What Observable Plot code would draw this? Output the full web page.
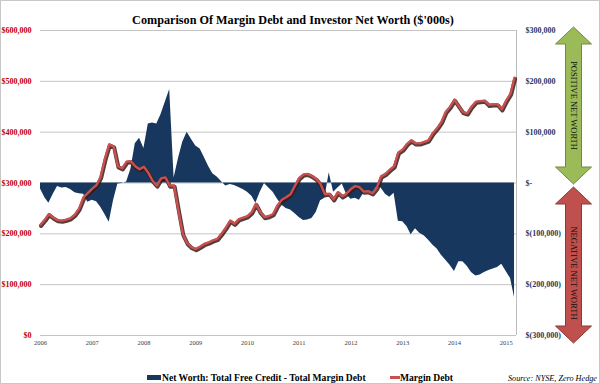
<!DOCTYPE html>
<html>
<head>
<meta charset="utf-8">
<script src="https://cdn.jsdelivr.net/npm/d3@7"></script>
<script src="https://cdn.jsdelivr.net/npm/@observablehq/plot@0.6"></script>
<style>
  html, body { margin: 0; padding: 0; background: #fff; }
  #wrap { position: relative; width: 600px; height: 384px; overflow: hidden; background: #fff;
          font-family: "Liberation Serif", "Times New Roman", serif; }
  #chart { position: absolute; left: 0; top: 0; }
  #overlay { position: absolute; left: 0; top: 0; pointer-events: none; }
  #border { position: absolute; left: 0; top: 0; width: 598px; height: 382px; border: 1px solid #c8c8c8; pointer-events: none; }
</style>
</head>
<body>
<div id="wrap">
  <div id="chart"></div>
  <svg id="overlay" width="600" height="384" xmlns="http://www.w3.org/2000/svg"></svg>
  <div id="border"></div>
</div>
<script>
// ---- data ($'000s), monthly from Jan 2006 ----
const startYear = 2006;
const marginDebt = [
  218000,228000,239000,232000,227000,226000,228000,231000,238000,250000,272000,280000,
  289000,296000,312000,348000,376000,372000,333000,329000,342000,343000,333000,327000,
  332000,320000,305000,295000,309000,311000,295000,295000,245000,200000,182000,174000,
  170000,175000,180000,183000,187000,190000,200000,212000,226000,220000,229000,232000,
  235000,243000,259000,243000,233000,235000,239000,256000,267000,272000,278000,294000,
  310000,317000,318000,314000,308000,298000,278000,279000,268000,282000,274000,279000,
  288000,294000,292000,283000,284000,280000,290000,313000,318000,326000,333000,360000,
  366000,377000,384000,378000,378000,381000,384000,398000,408000,420000,440000,450000,
  464000,451000,440000,437000,450000,460000,461000,462000,454000,455000,455000,445000,
  462000,476000,507000
];
const netWorth = [
  -12000,-29000,-40000,-22000,-7000,-10000,-9000,-13000,-19000,-21000,-22000,-38000,
  -34000,-37000,-47000,-62000,-77000,-34000,-2000,-1000,2000,27000,77000,88000,
  68000,116000,118000,116000,135000,160000,184000,10000,48000,80000,100000,86000,
  73000,67000,51000,33000,18000,12000,3000,-6000,-3000,-5000,-9000,-13000,
  -18000,-26000,-40000,-18000,-1000,-10000,-18000,-32000,-44000,-50000,-53000,-60000,
  -68000,-74000,-73000,-70000,-58000,-35000,-30000,20000,-18000,-10000,-2000,-22000,
  -32000,-30000,-34000,-20000,-16000,-20000,-8000,-10000,-22000,-28000,-20000,-75000,
  -76000,-86000,-102000,-90000,-99000,-104000,-112000,-122000,-130000,-142000,-152000,-162000,
  -174000,-155000,-155000,-164000,-176000,-183000,-181000,-176000,-172000,-169000,-166000,-160000,
  -174000,-188000,-225000
];
const leftTicks = [0, 100000, 200000, 300000, 400000, 500000, 600000];
const rightZero = 300000; // right axis "$-" sits at left-axis 300,000
const yearLabels = ["2006","2007","2008","2009","2010","2011","2012","2013","2014","2015"];
const seriesNames = ["Net Worth: Total Free Credit - Total Margin Debt", "Margin Debt"];
const titleText = "Comparison Of Margin Debt and Investor Net Worth ($'000s)";
const sourceText = "Source: NYSE, Zero Hedge";
const arrowLabels = ["POSITIVE NET WORTH", "NEGATIVE NET WORTH"];

const navy = "#17375e", red = "#c9504e";

const rows = marginDebt.map((v, i) => ({
  date: new Date(Date.UTC(startYear, i, 1)),
  debt: v,
  nw: netWorth[i]
}));
const yearDates = yearLabels.map(y => new Date(Date.UTC(+y, 0, 1)));
const xEnd = new Date(Date.UTC(2015, 2, 15));

const fmt = d3.format(",");
const fmtLeft = d => "$" + fmt(d);
const fmtRight = d => {
  const v = d - rightZero;
  if (v === 0) return "$-";
  return v < 0 ? "$(" + fmt(-v) + ")" : "$" + fmt(v);
};

const chart = Plot.plot({
  width: 600, height: 384,
  marginLeft: 40, marginRight: 84, marginTop: 30, marginBottom: 49,
  style: { fontFamily: "Liberation Serif, Times New Roman, serif", background: "transparent", overflow: "visible" },
  x: { type: "utc", domain: [new Date(Date.UTC(startYear, 0, 1)), xEnd], label: null },
  y: { domain: [0, 600000], label: null },
  marks: [
    Plot.ruleY(leftTicks, { stroke: "#c4c4c4", strokeWidth: 1 }),
    Plot.ruleX([xEnd], { stroke: "#bdbdbd", strokeWidth: 1 }),
    Plot.areaY(rows, { x: "date", y1: () => rightZero, y2: d => d.nw + rightZero, fill: navy, curve: "linear" }),
    Plot.lineY(rows, { x: "date", y: "debt", stroke: "#3a1a1a", strokeWidth: 4, strokeOpacity: 0.85, dx: 0.6, dy: 1.2, curve: "linear" }),
    Plot.lineY(rows, { x: "date", y: "debt", stroke: red, strokeWidth: 2.4, curve: "linear" }),
    Plot.axisY(leftTicks, { anchor: "left", tickSize: 0, tickPadding: 9, tickFormat: fmtLeft, fill: "#c00000", fontSize: 8, fontWeight: "bold", label: null }),
    Plot.axisY(leftTicks, { anchor: "right", tickSize: 0, tickPadding: 9, tickFormat: fmtRight, fill: "#1f3864", fontSize: 8, fontWeight: "bold", label: null }),
    Plot.axisX(yearDates, { anchor: "bottom", tickSize: 0, tickPadding: 5, tickFormat: d3.utcFormat("%Y"), fill: "#404040", fontSize: 6.5, label: null })
  ]
});
document.getElementById("chart").appendChild(chart);

// ---- overlay: title, legend, source, arrows ----
const ov = d3.select("#overlay");
ov.append("text").attr("x", 293).attr("y", 24).attr("text-anchor", "middle")
  .attr("font-family", "Liberation Serif, serif").attr("font-weight", "bold").attr("font-size", 12.2)
  .attr("fill", "#000").text(titleText);

ov.append("rect").attr("x", 147).attr("y", 375).attr("width", 14).attr("height", 5).attr("fill", navy);
ov.append("text").attr("x", 162).attr("y", 381).attr("font-family", "Liberation Serif, serif")
  .attr("font-weight", "bold").attr("font-size", 9.6).attr("fill", "#000").text(seriesNames[0]);
ov.append("line").attr("x1", 390).attr("x2", 400).attr("y1", 377.5).attr("y2", 377.5)
  .attr("stroke", red).attr("stroke-width", 3);
ov.append("text").attr("x", 400).attr("y", 381).attr("font-family", "Liberation Serif, serif")
  .attr("font-weight", "bold").attr("font-size", 9.6).attr("fill", "#000").text(seriesNames[1]);
ov.append("text").attr("x", 597).attr("y", 381).attr("text-anchor", "end").attr("font-family", "Liberation Serif, serif")
  .attr("font-style", "italic").attr("font-size", 8.2).attr("fill", "#000").text(sourceText);

function dblArrow(cx, top, bot, fill, stroke) {
  const hw = 18, sw = 8, hh = 17;
  const pts = [[cx, top], [cx + hw, top + hh], [cx + sw, top + hh], [cx + sw, bot - hh], [cx + hw, bot - hh],
    [cx, bot], [cx - hw, bot - hh], [cx - sw, bot - hh], [cx - sw, top + hh], [cx - hw, top + hh]];
  ov.append("polygon").attr("points", pts.map(p => p.join(",")).join(" "))
    .attr("fill", fill).attr("stroke", stroke).attr("stroke-width", 1);
}
dblArrow(573.5, 27, 184, "#9bbb59", "#71893f");
dblArrow(573.5, 187, 343, "#c0504d", "#8c3836");
[[arrowLabels[0], 105.5], [arrowLabels[1], 273]].forEach(([t, cy]) => {
  ov.append("text").attr("transform", `translate(573.5,${cy}) rotate(90)`)
    .attr("text-anchor", "middle").attr("dy", "0.35em")
    .attr("font-family", "Liberation Serif, serif").attr("font-size", 8.5).attr("fill", "#111").text(t);
});
</script>
</body>
</html>
